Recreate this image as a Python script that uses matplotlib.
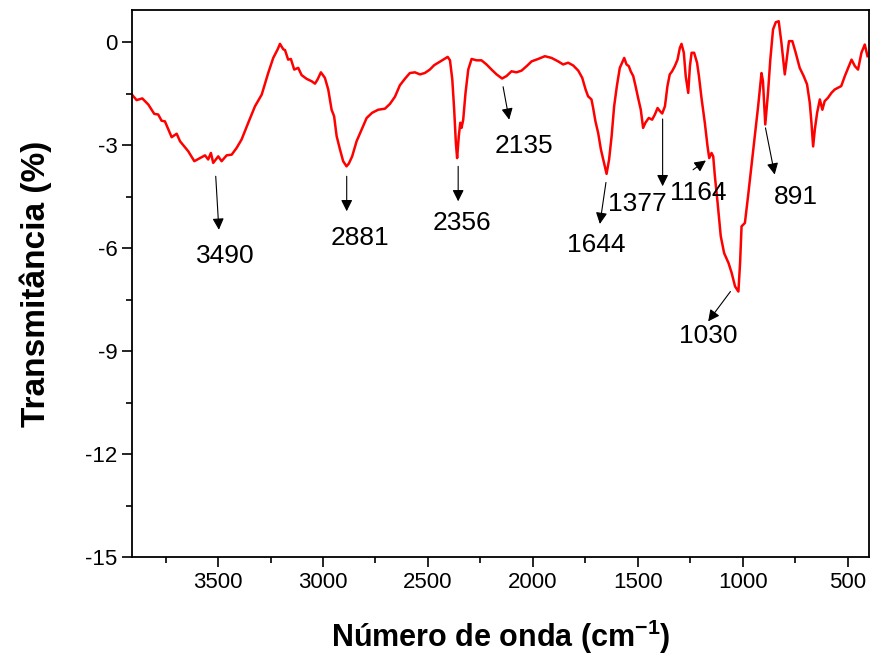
import numpy as np
import matplotlib
matplotlib.use("Agg")
import matplotlib.pyplot as plt
from matplotlib.ticker import MultipleLocator

plt.rcParams['font.family'] = ['Liberation Sans', 'DejaVu Sans']
plt.rcParams['axes.unicode_minus'] = False
plt.rcParams['mathtext.fontset'] = 'custom'
plt.rcParams['mathtext.rm'] = 'Liberation Sans'
plt.rcParams['mathtext.bf'] = 'Liberation Sans:bold'

# espectro FTIR (número de onda, transmitância)
wavenumber = [3910, 3888, 3861, 3832, 3804, 3785, 3769, 3753, 3721, 3697, 3681, 3642,
              3613, 3586, 3562, 3547, 3534, 3523, 3499, 3483, 3459, 3435, 3411, 3388,
              3356, 3324, 3292, 3261, 3237, 3216, 3205, 3189, 3181, 3166, 3153, 3137,
              3118, 3102, 3078, 3054, 3038, 3026, 3010, 2991, 2975, 2959, 2947, 2935,
              2919, 2904, 2888, 2877, 2861, 2840, 2816, 2792, 2766, 2737, 2705, 2681,
              2657, 2634, 2610, 2586, 2562, 2538, 2515, 2491, 2470, 2451, 2427, 2406,
              2395, 2384, 2375, 2367, 2361, 2353, 2346, 2340, 2332, 2321, 2308, 2292,
              2268, 2245, 2221, 2197, 2173, 2147, 2126, 2102, 2078, 2054, 2030, 2006,
              1975, 1943, 1911, 1880, 1856, 1832, 1808, 1784, 1765, 1749, 1737, 1721,
              1713, 1702, 1689, 1676, 1661, 1649, 1637, 1625, 1613, 1600, 1586, 1565,
              1554, 1543, 1534, 1522, 1511, 1499, 1486, 1475, 1464, 1448, 1432, 1419,
              1406, 1395, 1384, 1371, 1359, 1348, 1337, 1324, 1311, 1300, 1292, 1281,
              1272, 1260, 1252, 1244, 1232, 1218, 1209, 1197, 1181, 1168, 1160, 1149,
              1141, 1133, 1120, 1105, 1089, 1068, 1053, 1037, 1021, 1013, 1006, 990,
              975, 959, 943, 927, 911, 904, 893, 880, 869, 856, 843, 829,
              816, 800, 789, 780, 764, 748, 729, 710, 694, 681, 673, 665,
              657, 646, 633, 621, 610, 594, 578, 562, 546, 531, 514, 498,
              482, 466, 451, 435, 419, 406]
transm = [-1.52, -1.68, -1.63, -1.81, -2.08, -2.10, -2.28, -2.30, -2.76, -2.66, -2.88, -3.17,
          -3.46, -3.37, -3.29, -3.41, -3.22, -3.51, -3.32, -3.46, -3.29, -3.27, -3.07, -2.83,
          -2.34, -1.86, -1.52, -0.89, -0.45, -0.20, -0.04, -0.20, -0.22, -0.50, -0.48, -0.79,
          -0.74, -0.95, -1.06, -1.13, -1.20, -1.08, -0.87, -1.03, -1.37, -1.96, -2.15, -2.73,
          -3.12, -3.46, -3.61, -3.53, -3.32, -2.88, -2.54, -2.20, -2.05, -1.96, -1.93, -1.79,
          -1.58, -1.25, -1.06, -0.89, -0.87, -0.93, -0.89, -0.79, -0.66, -0.59, -0.50, -0.42,
          -0.52, -1.08, -1.96, -2.93, -3.37, -2.73, -2.34, -2.49, -2.25, -1.47, -0.79, -0.48,
          -0.52, -0.52, -0.64, -0.79, -0.93, -1.05, -0.98, -0.84, -0.87, -0.82, -0.69, -0.55,
          -0.48, -0.40, -0.45, -0.55, -0.64, -0.59, -0.67, -0.82, -1.03, -1.37, -1.57, -1.66,
          -1.91, -2.30, -2.64, -3.12, -3.51, -3.83, -3.41, -2.73, -1.86, -1.27, -0.74, -0.45,
          -0.64, -0.69, -0.84, -0.98, -1.27, -1.61, -1.96, -2.49, -2.34, -2.20, -2.25, -2.10,
          -1.91, -2.00, -2.07, -1.86, -1.27, -0.93, -0.84, -0.69, -0.50, -0.16, -0.04, -0.30,
          -0.98, -1.47, -0.69, -0.30, -0.30, -0.59, -0.98, -1.61, -2.34, -3.03, -3.37, -3.22,
          -3.32, -3.90, -4.68, -5.65, -6.14, -6.43, -6.72, -7.11, -7.26, -6.43, -5.36, -5.26,
          -4.48, -3.61, -2.73, -1.86, -0.89, -1.13, -2.39, -1.47, -0.50, 0.38, 0.59, 0.62,
          -0.01, -0.93, -0.40, 0.04, 0.04, -0.30, -0.74, -0.98, -1.22, -1.76, -2.34, -3.03,
          -2.54, -2.05, -1.66, -1.96, -1.71, -1.61, -1.47, -1.37, -1.32, -1.27, -0.98, -0.74,
          -0.50, -0.69, -0.79, -0.30, -0.06, -0.40]

# bandas marcadas: rótulo, ponta da seta, início da seta, posição do texto
band_labels = ['3490', '2881', '2356', '2135', '1644', '1377', '1164', '1030', '891']
arrow_tip = [(3496, -5.46), (2887, -4.92), (2356, -4.63), (2113, -2.25), (1681, -5.29),
             (1382, -4.19), (1176, -3.44), (1165, -8.13), (848, -3.85)]
arrow_tail = [(3511, -3.90), (2887, -3.90), (2356, -3.61), (2142, -1.29), (1652, -4.08),
              (1382, -2.23), (1237, -3.71), (1059, -7.26), (892, -2.49)]
text_pos = [(3464, -6.21), (2824, -5.70), (2340, -5.26), (2043, -3.03), (1697, -5.89),
            (1502, -4.70), (1210, -4.39), (1165, -8.55), (749, -4.49)]

fig = plt.figure(figsize=(8.74, 6.6), dpi=100)
ax = fig.add_axes([0.151, 0.156, 0.843, 0.829])

ax.plot(wavenumber, transm, color='red', lw=1.8)

for lab, tip, tail, tp in zip(band_labels, arrow_tip, arrow_tail, text_pos):
    ax.annotate('', xy=tip, xytext=tail,
                arrowprops=dict(arrowstyle='-|>', color='black', lw=0.8,
                                mutation_scale=17, shrinkA=0, shrinkB=0))
    ax.text(tp[0], tp[1], lab, fontsize=19, ha='center', va='center')

ax.set_xlim(3910, 400)
ax.set_ylim(-15, 0.95)
ax.xaxis.set_major_locator(MultipleLocator(500))
ax.xaxis.set_minor_locator(MultipleLocator(250))
ax.yaxis.set_major_locator(MultipleLocator(3))
ax.yaxis.set_minor_locator(MultipleLocator(1.5))
ax.tick_params(which='major', direction='out', length=7, width=1.2, labelsize=16)
ax.tick_params(which='minor', direction='out', length=4, width=1.2)
ax.tick_params(top=False, right=False)
for sp in ax.spines.values():
    sp.set_linewidth(1.3)

ax.set_xlabel(r'Número de onda (cm$^{\mathbf{-1}}$)', fontsize=22, fontweight='bold', labelpad=18)
ax.set_ylabel('Transmitância (%)', fontsize=24, fontweight='bold', labelpad=24)

fig.savefig('out.png', dpi=100)
